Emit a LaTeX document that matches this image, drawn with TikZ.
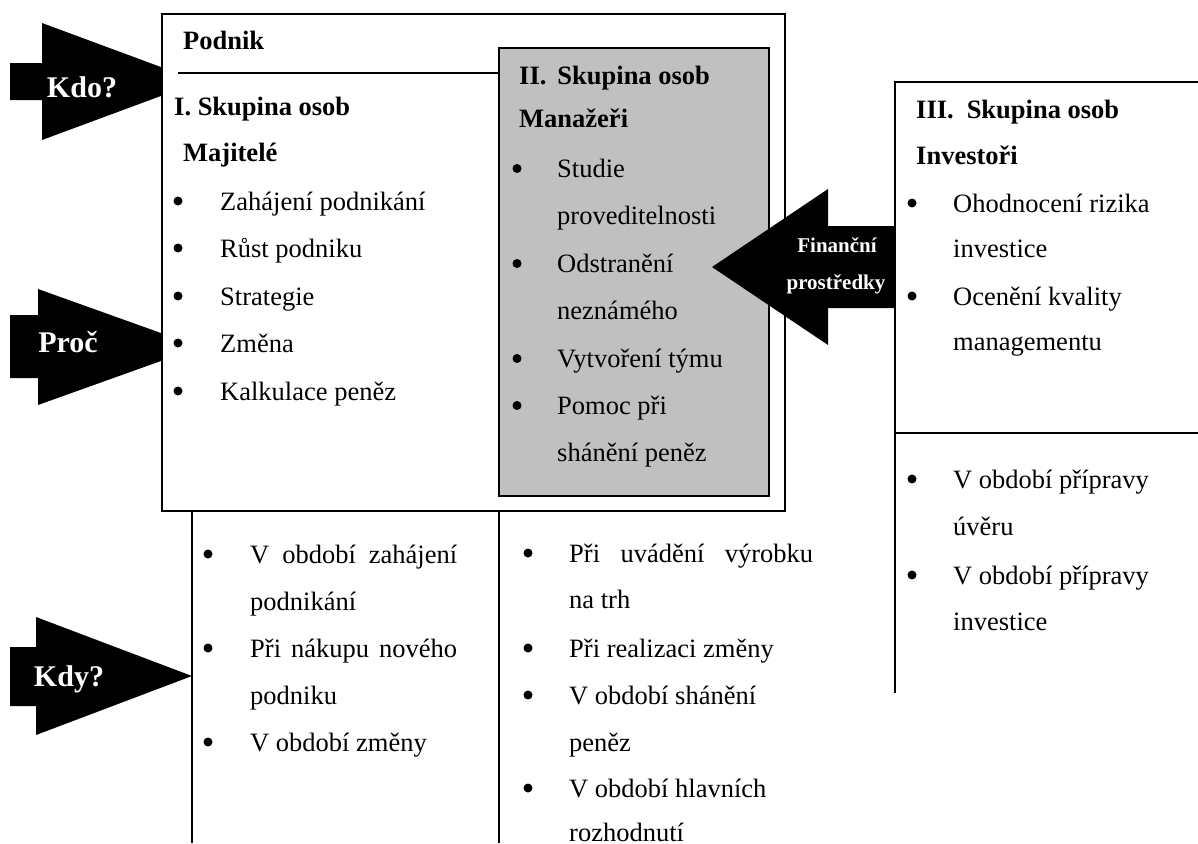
\documentclass[tikz,border=0pt]{standalone}
\usepackage{fontspec}
\setmainfont{Liberation Serif}
\definecolor{mgrgrey}{RGB}{192,192,192}
\newcommand{\txtsize}{\fontsize{26.5}{30}\selectfont}
\newcommand{\txtbold}{\fontsize{26.5}{30}\selectfont\bfseries}
\newcommand{\arrbold}{\fontsize{30}{34}\selectfont\bfseries}
\newcommand{\finbold}{\fontsize{21}{24}\selectfont\bfseries}
\tikzset{
  txt/.style={anchor=base west, inner sep=0pt, font=\txtsize},
  head/.style={anchor=base west, inner sep=0pt, font=\txtbold},
  bul/.style={circle, fill=black, inner sep=0pt, minimum size=9pt, yshift=9pt},
  arrlbl/.style={anchor=base, inner sep=0pt, text=white, font=\arrbold},
  finlbl/.style={anchor=base, inner sep=0pt, text=white, font=\finbold},
  boxline/.style={line width=2pt},
  tabline/.style={line width=1.6pt}
}
\begin{document}
\begin{tikzpicture}[x=1pt, y=-1pt]
    \useasboundingbox (0,0) rectangle (1198,843);

    % block arrows on the left
    \fill (10,63) -- (42,63) -- (42,23) -- (200,81.5) -- (42,140) -- (42,100) -- (10,100) -- cycle;
    \fill (10,315) -- (38,315) -- (38,289) -- (200,347) -- (38,405) -- (38,378) -- (10,378) -- cycle;
    \fill (10,647) -- (36,647) -- (36,617) -- (192,676) -- (36,735) -- (36,706) -- (10,706) -- cycle;
    \node[arrlbl] (kdo) at (82,97) {Kdo?};
    \node[arrlbl] (proc) at (68,352) {Proč};
    \node[arrlbl] (kdy) at (69,686) {Kdy?};

    % Podnik box
    \draw[boxline, fill=white] (162,14) rectangle (785,511);
    \draw[boxline, fill=mgrgrey] (499,48) rectangle (769,496);
    \draw[boxline] (178,73) -- (499,73);
    \draw[boxline] (192,511) -- (192,843);
    \draw[boxline] (499,511) -- (499,843);

    % investors column
    \draw[tabline] (1198,82) -- (895,82) -- (895,693);
    \draw[tabline] (895,433) -- (1198,433);

    % financial arrow
    \fill (895,226) -- (828,226) -- (828,189) -- (712,267) -- (828,345) -- (828,308) -- (895,308) -- cycle;
    \node[finlbl] (fin1) at (837,252) {Finanční};
    \node[finlbl] (fin2) at (836,289) {prostředky};

    % I. group
    \node[head] (podnik) at (183,49) {Podnik};
    \node[head] (sk1) at (174,115) {I. Skupina osob};
    \node[head] (maj) at (183,161) {Majitelé};
    \node[bul] (bm1) at (178,210) {};
    \node[txt] (m1) at (220,210) {Zahájení podnikání};
    \node[bul] (bm2) at (178,257) {};
    \node[txt] (m2) at (220,257) {Růst podniku};
    \node[bul] (bm3) at (178,305) {};
    \node[txt] (m3) at (220,305) {Strategie};
    \node[bul] (bm4) at (178,352) {};
    \node[txt] (m4) at (220,352) {Změna};
    \node[bul] (bm5) at (178,400) {};
    \node[txt] (m5) at (220,400) {Kalkulace peněz};

    % II. group
    \node[head] (sk2) at (519,84) {II.\hspace{11pt}Skupina osob};
    \node[head] (man) at (519,127) {Manažeři};
    \node[bul] (bn1) at (517,177.5) {};
    \node[txt] (n1) at (557,177.5) {Studie};
    \node[txt] (n1b) at (557,224.5) {proveditelnosti};
    \node[bul] (bn2) at (517,272.5) {};
    \node[txt] (n2) at (557,272.5) {Odstranění};
    \node[txt] (n2b) at (557,319.5) {neznámého};
    \node[bul] (bn3) at (517,367.5) {};
    \node[txt] (n3) at (557,367.5) {Vytvoření týmu};
    \node[bul] (bn4) at (517,414.5) {};
    \node[txt] (n4) at (557,414.5) {Pomoc při};
    \node[txt] (n4b) at (557,461.5) {shánění peněz};

    % III. group
    \node[head] (sk3) at (916,118) {III.\hspace{13pt}Skupina osob};
    \node[head] (inv) at (916,164) {Investoři};
    \node[bul] (bi1) at (912,212) {};
    \node[txt] (i1) at (953,212) {Ohodnocení rizika};
    \node[txt] (i1b) at (953,257) {investice};
    \node[bul] (bi2) at (912,305) {};
    \node[txt] (i2) at (953,305) {Ocenění kvality};
    \node[txt] (i2b) at (953,350) {managementu};

    % when: owners
    \node[bul] (bk1) at (208,563) {};
    \node[txt] (k1) at (250,563) {\makebox[207pt][s]{V období zahájení}};
    \node[txt] (k1b) at (250,610) {podnikání};
    \node[bul] (bk2) at (208,657) {};
    \node[txt] (k2) at (250,657) {\makebox[207pt][s]{Při nákupu nového}};
    \node[txt] (k2b) at (250,704) {podniku};
    \node[bul] (bk3) at (208,751) {};
    \node[txt] (k3) at (250,751) {V období změny};

    % when: managers
    \node[bul] (bl1) at (528,562) {};
    \node[txt] (l1) at (569,562) {\makebox[244pt][s]{Při uvádění výrobku}};
    \node[txt] (l1b) at (569,608) {na trh};
    \node[bul] (bl2) at (528,657) {};
    \node[txt] (l2) at (569,657) {Při realizaci změny};
    \node[bul] (bl3) at (528,704) {};
    \node[txt] (l3) at (569,704) {V období shánění};
    \node[txt] (l3b) at (569,751) {peněz};
    \node[bul] (bl4) at (528,797) {};
    \node[txt] (l4) at (569,797) {V období hlavních};
    \node[txt] (l4b) at (569,841) {rozhodnutí};

    % when: investors
    \node[bul] (bp1) at (912,488) {};
    \node[txt] (p1) at (953,488) {V období přípravy};
    \node[txt] (p1b) at (953,535) {úvěru};
    \node[bul] (bp2) at (912,584) {};
    \node[txt] (p2) at (953,584) {V období přípravy};
    \node[txt] (p2b) at (953,630) {investice};
\end{tikzpicture}
\end{document}
